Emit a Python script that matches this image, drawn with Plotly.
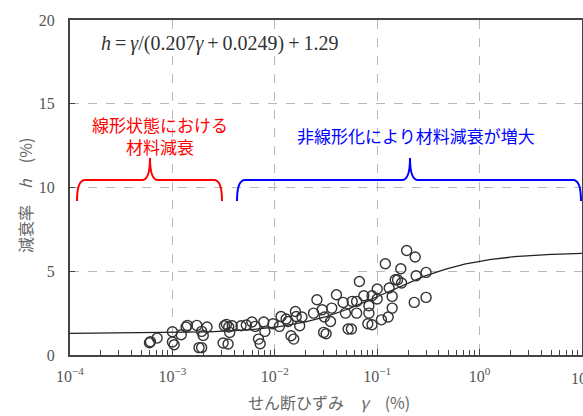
import numpy as np
import plotly.graph_objects as go

# ---- data ----
strain = [5.97e-4, 6.1e-4, 7.1e-4, 1.0e-3, 1.0e-3, 1.04e-3, 1.22e-3, 1.36e-3, 1.40e-3,
          1.73e-3, 1.82e-3, 1.93e-3, 1.93e-3, 2.0e-3, 2.18e-3, 3.13e-3, 3.5e-3,
          3.22e-3, 3.37e-3, 3.55e-3, 3.63e-3, 3.84e-3, 4.68e-3, 5.27e-3, 5.98e-3,
          6.43e-3, 6.93e-3, 7.2e-3, 7.8e-3, 8.0e-3, 9.6e-3, 1.11e-2, 1.15e-2,
          1.29e-2, 1.44e-2, 1.53e-2, 1.59e-2, 1.62e-2, 1.35e-2, 1.75e-2, 1.84e-2,
          2.39e-2, 2.58e-2, 2.9e-2, 3.0e-2, 3.17e-2, 3.05e-2, 3.6e-2, 3.5e-2,
          4.0e-2, 4.65e-2, 4.9e-2, 5.2e-2, 5.6e-2, 5.7e-2, 6.3e-2, 6.7e-2,
          6.3e-2, 7.4e-2, 8.3e-2, 8.3e-2, 8.1e-2, 8.9e-2, 8.9e-2, 1.0e-1,
          1.0e-1, 1.1e-1, 1.2e-1, 1.31e-1, 1.28e-1, 1.4e-1, 1.4e-1, 1.5e-1,
          1.58e-1, 1.7e-1, 1.73e-1, 1.94e-1, 2.35e-1, 2.3e-1, 2.4e-1, 3.0e-1, 3.0e-1]
damping = [0.73, 0.80, 1.01, 1.39, 0.78, 0.61, 1.21, 1.67, 1.77,
           1.77, 0.44, 0.44, 1.41, 1.17, 1.67, 0.72, 0.66,
           1.75, 1.83, 1.67, 1.35, 1.75, 1.75, 1.79, 1.97,
           1.71, 0.95, 0.67, 1.97, 1.41, 1.87, 1.71, 2.30,
           2.15, 1.15, 0.95, 2.60, 2.30, 2.00, 1.75, 2.27,
           2.50, 3.30, 2.70, 1.35, 1.27, 2.27, 2.80, 2.00,
           3.60, 3.14, 2.50, 1.55, 1.55, 3.20, 3.20, 4.39,
           2.50, 3.54, 2.94, 2.50, 1.87, 1.81, 3.54, 3.94,
           3.34, 2.10, 5.45, 4.00, 2.27, 3.50, 2.80, 4.49,
           4.49, 5.15, 4.30, 6.24, 5.85, 3.14, 4.73, 4.93, 3.44]

# fitted model shown in the chart: h = γ/(a·γ + b) + c
fit_a, fit_b, fit_c = 0.207, 0.0249, 1.29
fit_x = np.logspace(-4, 1, 300)
fit_y = fit_x / (fit_a * fit_x + fit_b) + fit_c

x_tick_vals = [1e-4, 1e-3, 1e-2, 1e-1, 1e0, 1e1]
x_tick_text = ["10<sup>−4</sup>", "10<sup>−3</sup>", "10<sup>−2</sup>",
               "10<sup>−1</sup>", "10<sup>0</sup>", "10<sup>1</sup>"]
y_tick_vals = [0, 5, 10, 15, 20]

eq_text = "<i>h</i>&#8201;=&#8201;<i>γ</i>/(0.207<i>γ</i>&#8201;+&#8201;0.0249)&#8201;+&#8201;1.29"
red_text = "線形状態における<br>材料減衰"
blue_text = "非線形化により材料減衰が増大"
x_title = "せん断ひずみ　<i>γ</i>　(%)"
y_title = "減衰率　<i>h</i>　(%)"

# ---- layout geometry ----
W, H = 583, 416
L, R, T, B = 70, 1, 20, 61
PW, PH = W - L - R, H - T - B


def px(x):
    return (x - L) / PW


def py(y):
    return (H - B - y) / PH


def brace(x0, x1, xt, top, tip, bot, r=8):
    pts = [
        f"M {px(x0)},{py(bot)}",
        f"Q {px(x0)},{py(top)} {px(x0 + r)},{py(top)}",
        f"L {px(xt - r)},{py(top)}",
        f"Q {px(xt)},{py(top)} {px(xt)},{py(tip)}",
        f"Q {px(xt)},{py(top)} {px(xt + r)},{py(top)}",
        f"L {px(x1 - r)},{py(top)}",
        f"Q {px(x1)},{py(top)} {px(x1)},{py(bot)}",
    ]
    return " ".join(pts)


serif = "Liberation Serif, Times New Roman, serif"
cjk = "Noto Sans CJK JP, Noto Sans, sans-serif"

fig = go.Figure()
fig.add_trace(go.Scatter(x=fit_x, y=fit_y, mode="lines",
                         line=dict(color="#222", width=1.3), hoverinfo="skip"))
fig.add_trace(go.Scatter(x=strain, y=damping, mode="markers",
                         marker=dict(symbol="circle-open", size=10, color="#333",
                                     line=dict(color="#333", width=1.4))))

axis_common = dict(
    showline=True, linecolor="#444", linewidth=2, mirror=True,
    showgrid=True, gridcolor="#b8b8b8", griddash="dash", gridwidth=1,
    ticks="inside", tickcolor="#444", zeroline=False, automargin=False,
    tickfont=dict(family=serif, size=16, color="#555"),
)

fig.update_xaxes(type="log", range=[-4, 1], tickmode="array",
                 tickvals=x_tick_vals, ticktext=x_tick_text,
                 ticklen=6, ticklabelstandoff=6,
                 minor=dict(ticks="inside", ticklen=5, tickcolor="#444",
                            showgrid=False, dtick="D1"),
                 **axis_common)
fig.update_yaxes(range=[0, 20], tickvals=y_tick_vals, ticklen=5,
                 ticklabelstandoff=10, **axis_common)

fig.update_layout(
    width=W, height=H, margin=dict(l=L, r=R, t=T, b=B),
    paper_bgcolor="white", plot_bgcolor="white", showlegend=False,
    shapes=[
        dict(type="path", xref="paper", yref="paper",
             path=brace(77, 222, 150, 180, 158, 201),
             line=dict(color="#ff0000", width=2)),
        dict(type="path", xref="paper", yref="paper",
             path=brace(237, 581, 410, 180, 158, 201),
             line=dict(color="#0000ff", width=2)),
    ],
    annotations=[
        dict(text=eq_text, xref="paper", yref="paper", x=px(220), y=py(44),
             xanchor="center", yanchor="middle",
             showarrow=False, font=dict(family=serif, size=20, color="#333")),
        dict(text=red_text, xref="paper", yref="paper", x=px(160), y=py(135),
             xanchor="center", yanchor="middle",
             showarrow=False, font=dict(family=cjk, size=17, color="#ff0000")),
        dict(text=blue_text, xref="paper", yref="paper", x=px(416), y=py(135),
             xanchor="center", yanchor="middle",
             showarrow=False, font=dict(family=cjk, size=17, color="#0000ff")),
        dict(text=x_tick_text[-1], xref="paper", yref="paper", x=px(582), y=py(377),
             xanchor="center", yanchor="middle",
             showarrow=False, font=dict(family=serif, size=16, color="#555")),
        dict(text=x_title, xref="paper", yref="paper", x=px(329), y=py(402),
             xanchor="center", yanchor="middle",
             showarrow=False, font=dict(family=cjk, size=16, color="#666")),
        dict(text=y_title, xref="paper", yref="paper", x=px(25), y=py(196),
             xanchor="center", yanchor="middle",
             textangle=-90, showarrow=False,
             font=dict(family=cjk, size=16, color="#666")),
    ],
)

fig.write_html("out.html", config={"displayModeBar": False},
               post_script="document.body.style.margin='0';")
